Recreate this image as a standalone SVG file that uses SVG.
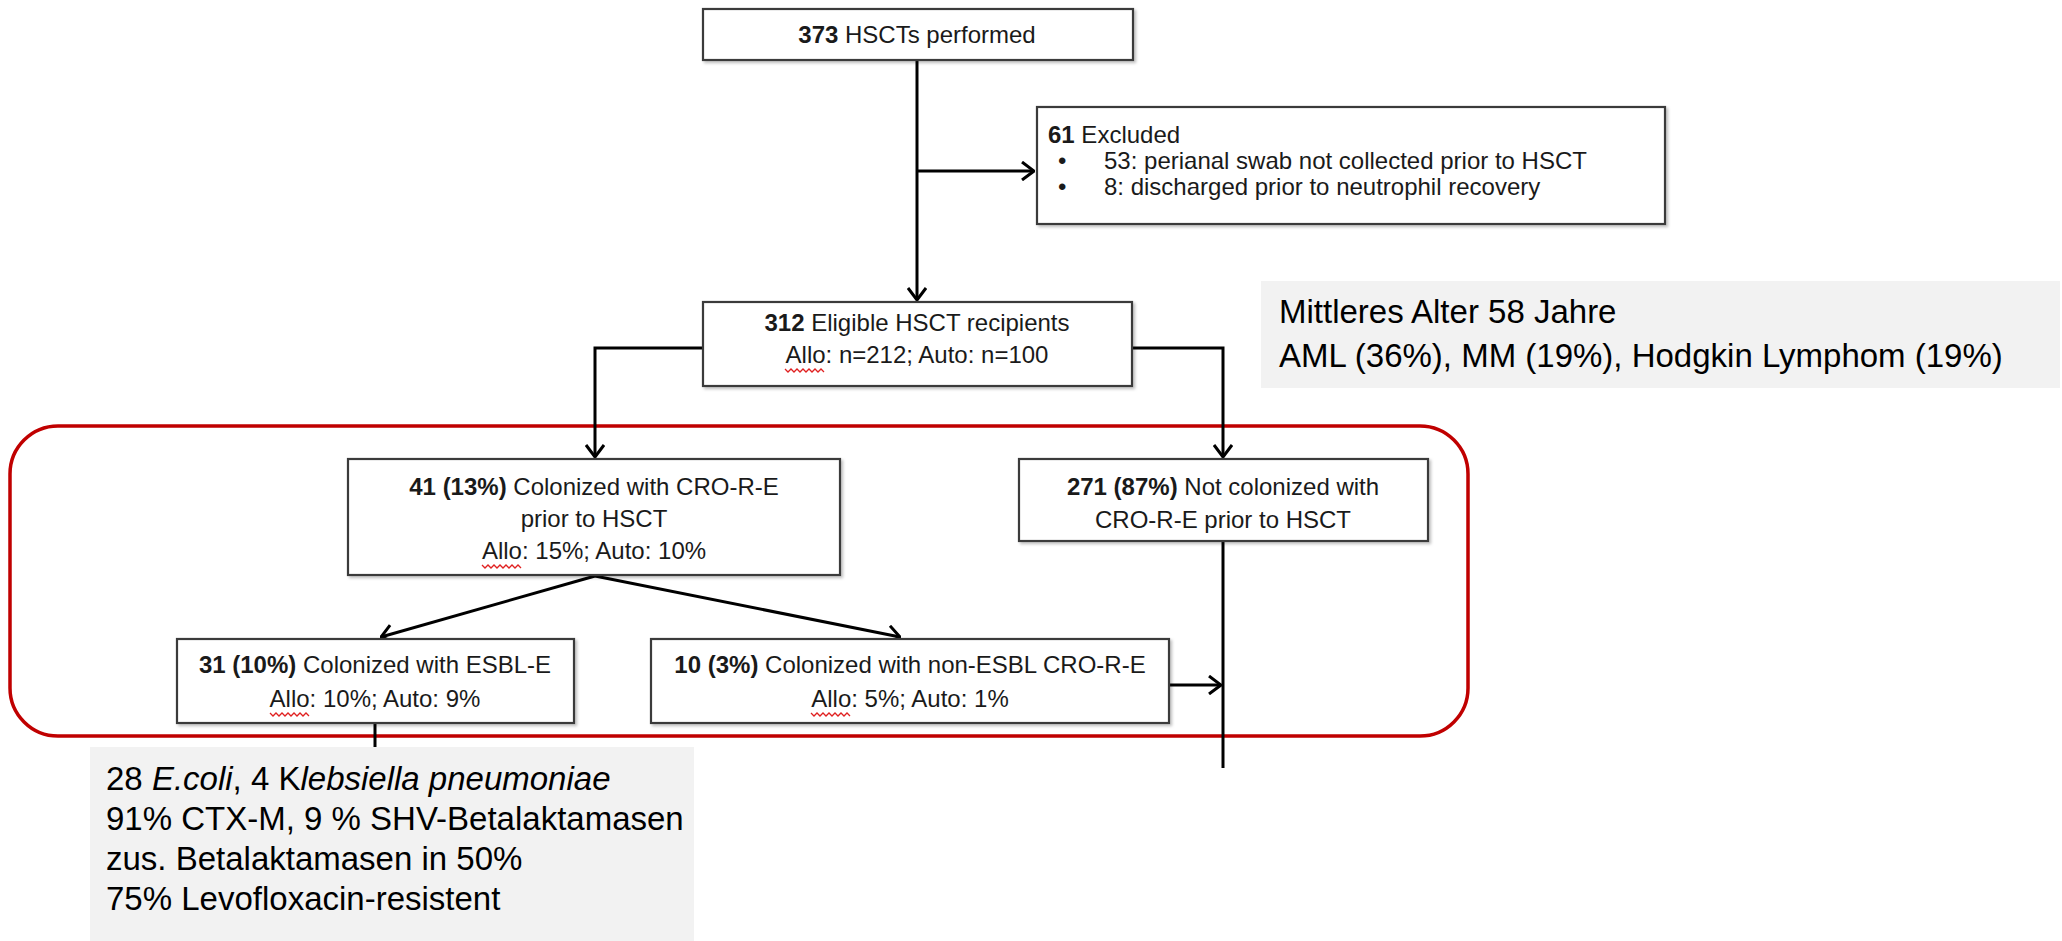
<svg xmlns="http://www.w3.org/2000/svg" width="2062" height="941" viewBox="0 0 2062 941">
  <style>
    .box { fill: #ffffff; stroke: #3a3a3a; stroke-width: 2.2; }
    .t { font-family: "Liberation Sans", Arial, sans-serif; font-size: 24px; fill: #1a1a1a; }
    .c { text-anchor: middle; }
    .b { font-weight: bold; }
    .con { fill: none; stroke: #000; stroke-width: 3; }
    .note { fill: #f2f2f2; stroke: none; }
    .nt { font-family: "Liberation Sans", Arial, sans-serif; font-size: 33px; fill: #000; }
    .sq { fill: none; stroke: #e02020; stroke-width: 1.3; }
    .red { fill: none; stroke: #c00000; stroke-width: 3.5; }
  </style>
  <defs>
    <marker id="arr" viewBox="0 0 14 20" refX="13" refY="10" markerWidth="14" markerHeight="20" markerUnits="userSpaceOnUse" orient="auto">
      <path d="M1,1 L13,10 L1,19" fill="none" stroke="#000" stroke-width="3"/>
    </marker>
    <filter id="sh" x="-5%" y="-5%" width="110%" height="120%">
      <feDropShadow dx="2" dy="2" stdDeviation="1.5" flood-color="#000" flood-opacity="0.25"/>
    </filter>
  </defs>

  <rect width="2062" height="941" fill="#ffffff"/>

  <!-- red highlight frame -->
  <rect class="red" x="10" y="426" width="1458" height="310" rx="48" ry="48"/>

  <!-- notes -->
  <g id="note-right">
    <rect class="note" x="1261" y="281" width="799" height="107"/>
    <text class="nt" x="1279" y="323">Mittleres Alter 58 Jahre</text>
    <text class="nt" x="1279" y="367">AML (36%), MM (19%), Hodgkin Lymphom (19%)</text>
  </g>

  <!-- connectors -->
  <g id="connectors">
    <path class="con" d="M917,60 V300" marker-end="url(#arr)"/>
    <path class="con" d="M917,171 H1034" marker-end="url(#arr)"/>
    <path class="con" d="M703,348 H595 V457" marker-end="url(#arr)"/>
    <path class="con" d="M1132,348 H1223 V457" marker-end="url(#arr)"/>
    <path class="con" d="M595,576 L381,637" marker-end="url(#arr)"/>
    <path class="con" d="M595,576 L900,637" marker-end="url(#arr)"/>
    <path class="con" d="M1169,685 H1221" marker-end="url(#arr)"/>
    <path class="con" d="M1223,542 V768"/>
    <path class="con" d="M375,723 V747"/>
  </g>

  <g id="n373">
    <rect class="box" filter="url(#sh)" x="703" y="9" width="430" height="51"/>
    <text class="t c" x="917" y="43"><tspan class="b">373</tspan> HSCTs performed</text>
  </g>

  <g id="excluded">
    <rect class="box" filter="url(#sh)" x="1037" y="107" width="628" height="117"/>
    <text class="t" x="1048" y="143"><tspan class="b">61</tspan> Excluded</text>
    <text class="t" x="1058" y="169">•</text>
    <text class="t" x="1104" y="169">53: perianal swab not collected prior to HSCT</text>
    <text class="t" x="1058" y="195">•</text>
    <text class="t" x="1104" y="195">8: discharged prior to neutrophil recovery</text>
  </g>

  <g id="n312">
    <rect class="box" filter="url(#sh)" x="703" y="302" width="429" height="84"/>
    <text class="t c" x="917" y="331"><tspan class="b">312</tspan> Eligible HSCT recipients</text>
    <text class="t c" x="917" y="363">Allo: n=212; Auto: n=100</text>
    <path class="sq" d="M785,369 l3,3 l3,-3 l3,3 l3,-3 l3,3 l3,-3 l3,3 l3,-3 l3,3 l3,-3 l3,3 l3,-3 l3,3"/>
  </g>

  <g id="n41">
    <rect class="box" filter="url(#sh)" x="348" y="459" width="492" height="116"/>
    <text class="t c" x="594" y="495"><tspan class="b">41 (13%)</tspan> Colonized with CRO-R-E</text>
    <text class="t c" x="594" y="527">prior to HSCT</text>
    <text class="t c" x="594" y="559">Allo: 15%; Auto: 10%</text>
    <path class="sq" d="M482,565 l3,3 l3,-3 l3,3 l3,-3 l3,3 l3,-3 l3,3 l3,-3 l3,3 l3,-3 l3,3 l3,-3 l3,3"/>
  </g>

  <g id="n271">
    <rect class="box" filter="url(#sh)" x="1019" y="459" width="409" height="82"/>
    <text class="t c" x="1223" y="495"><tspan class="b">271 (87%)</tspan> Not colonized with</text>
    <text class="t c" x="1223" y="528">CRO-R-E prior to HSCT</text>
  </g>

  <g id="n31">
    <rect class="box" filter="url(#sh)" x="177" y="639" width="397" height="84"/>
    <text class="t c" x="375" y="673"><tspan class="b">31 (10%)</tspan> Colonized with ESBL-E</text>
    <text class="t c" x="375" y="707">Allo: 10%; Auto: 9%</text>
    <path class="sq" d="M270,713 l3,3 l3,-3 l3,3 l3,-3 l3,3 l3,-3 l3,3 l3,-3 l3,3 l3,-3 l3,3 l3,-3 l3,3"/>
  </g>

  <g id="n10">
    <rect class="box" filter="url(#sh)" x="651" y="639" width="518" height="84"/>
    <text class="t c" x="910" y="673"><tspan class="b">10 (3%)</tspan> Colonized with non-ESBL CRO-R-E</text>
    <text class="t c" x="910" y="707">Allo: 5%; Auto: 1%</text>
    <path class="sq" d="M811,713 l3,3 l3,-3 l3,3 l3,-3 l3,3 l3,-3 l3,3 l3,-3 l3,3 l3,-3 l3,3 l3,-3 l3,3"/>
  </g>

  <g id="note-bottom">
    <rect class="note" x="90" y="747" width="604" height="194"/>
    <text class="nt" x="106" y="790">28 <tspan font-style="italic">E.coli</tspan>, 4 K<tspan font-style="italic">lebsiella pneumoniae</tspan></text>
    <text class="nt" x="106" y="830">91% CTX-M, 9 % SHV-Betalaktamasen</text>
    <text class="nt" x="106" y="870">zus. Betalaktamasen in 50%</text>
    <text class="nt" x="106" y="910">75% Levofloxacin-resistent</text>
  </g>
</svg>
